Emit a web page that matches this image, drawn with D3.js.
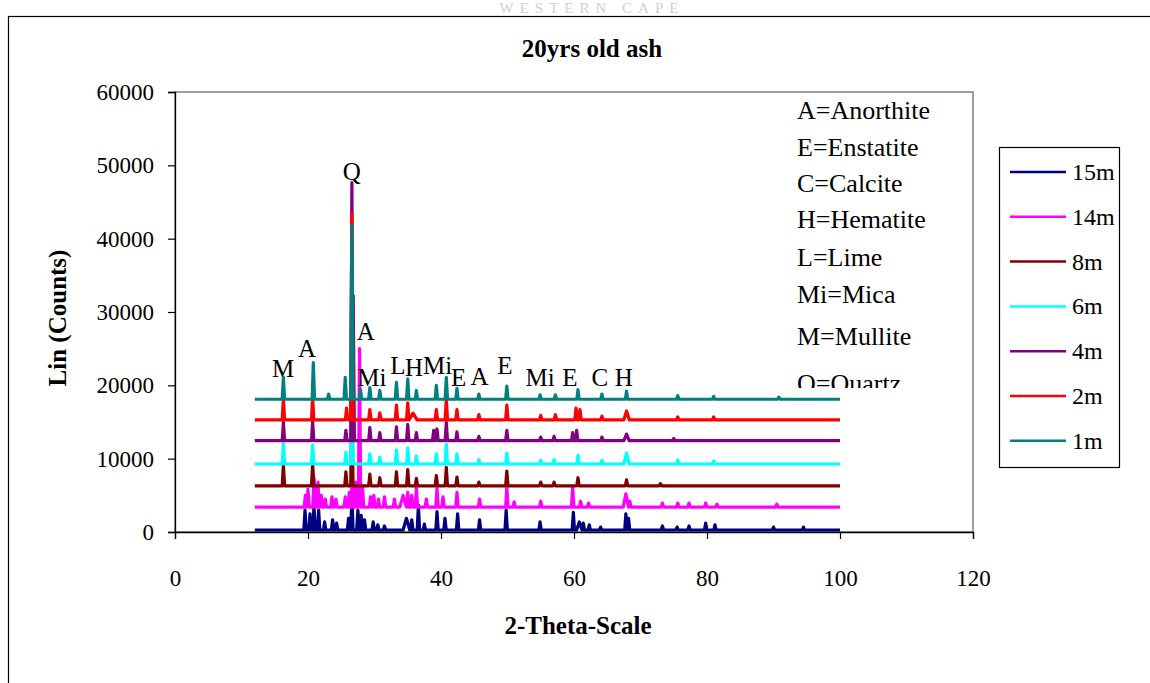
<!DOCTYPE html>
<html>
<head>
<meta charset="utf-8">
<script src="https://cdn.jsdelivr.net/npm/d3@7/dist/d3.min.js"></script>
<style>
  html, body { margin: 0; padding: 0; background: #fff; }
  svg { display: block; }
  text { font-family: "Liberation Serif", "Times New Roman", serif; }
</style>
</head>
<body>
<svg id="chart" width="1150" height="683"></svg>
<script>
// ---------------- DATA ----------------
const chartTitle = "20yrs old ash";
const xTitle = "2-Theta-Scale";
const yTitle = "Lin (Counts)";
const xTickValues = [0, 20, 40, 60, 80, 100, 120];
const yTickValues = [0, 10000, 20000, 30000, 40000, 50000, 60000];
const scanRange = [12, 100];

const seriesNames = ["15m", "14m", "8m", "6m", "4m", "2m", "1m"];
// baseline level (counts) of each stacked pattern
const seriesBaselines = [270, 3400, 6300, 9270, 12450, 15300, 18100];

// peaks: [2-theta, height above baseline (counts), optional half-width (deg)]
const peaks15m = [[19.55,2700],[20.3,2200],[20.9,3400],[21.6,2700],[22.5,1100],[23.7,1400],[24.3,950],[26.1,1600],[26.6,4500],[27.5,2700],[28.0,2000],[28.5,1400],[29.8,1100],[30.5,700],[31.5,550],[34.8,1600,0.5],[35.6,1400],[36.6,3400],[37.5,800],[39.4,2500],[40.6,1600],[42.5,2200],[45.8,1400],[49.8,2700],[54.9,1100],[59.9,2400],[60.8,1100,0.4],[61.4,950],[62.3,700],[64.0,400],[67.8,2200],[68.2,1600],[73.3,550],[75.5,400],[77.3,550],[79.8,950],[81.2,700],[90.0,400],[94.5,400]];
const peaks14m = [[19.6,1600],[20.0,2400],[20.9,4000],[21.5,3400],[22.0,1600],[22.6,1100],[23.6,1400],[24.2,1100],[25.6,1400],[26.2,2000],[26.65,4000],[27.2,3400],[27.75,21600],[28.2,2700],[29.4,1400],[29.9,1600],[30.6,1100],[31.5,1400],[33.0,1100],[34.3,1600,0.5],[35.0,2000],[35.6,1600],[36.3,2700],[37.8,1100],[39.4,2600],[40.3,1400],[42.4,2000],[45.8,1100],[49.9,2800],[51.0,700],[55.0,800],[59.8,2700],[61.0,800],[62.2,550],[67.8,1800,0.4],[68.4,800],[73.3,550],[75.6,550],[77.3,550],[79.8,550],[81.5,400],[90.5,400]];
const peaks8m = [[16.3,2900],[20.7,3100],[25.7,1900],[26.6,12000],[29.3,1600],[30.8,1100],[33.3,1900],[35.0,2200],[36.3,1000],[39.3,1400],[40.8,2500],[42.4,1200],[45.7,500],[49.9,2000],[55.0,500],[57.0,500],[60.6,1100],[67.9,800],[73.0,300]];
const peaks6m = [[16.3,2900],[20.7,2600],[25.7,1600],[26.6,15000],[29.3,1400],[30.8,950],[33.3,1900],[35.0,2200],[36.3,1100],[39.3,1400],[40.8,2700],[42.4,1400],[45.7,600],[49.9,1500],[55.0,500],[57.0,600],[60.6,1200],[64.2,500],[67.9,1500,0.4],[75.6,550],[81.0,400]];
const peaks4m = [[16.3,2500],[20.7,2600],[25.7,1400],[26.6,35200],[26.8,19800],[29.3,1800],[30.8,1100],[33.3,1900],[35.0,2200],[36.3,1100],[38.9,1400],[39.4,1600],[40.8,2500],[42.4,1200],[45.7,600],[49.9,1400],[55.0,500],[57.0,600],[59.8,1100],[60.4,1400],[64.2,500],[67.9,900,0.4],[75.0,300]];
const peaks2m = [[16.3,2900],[20.7,3100],[25.8,1600],[26.6,28200],[29.3,1400],[30.8,950],[33.3,2000],[35.0,2300],[35.8,900,0.6],[39.3,1400],[40.8,2900],[42.4,1400],[45.7,700],[49.9,2000],[55.0,600],[57.2,700],[60.3,1600],[60.9,1400],[64.2,500],[67.9,1200,0.4],[75.6,400],[81.0,400]];
const peaks1m = [[16.3,3000],[20.8,5000],[23.1,700],[25.6,3000],[26.6,23700],[27.9,1300],[29.3,1600],[30.8,1200],[33.3,2300],[35.0,2800],[36.3,1200],[39.3,1900],[40.8,3000],[42.4,1500],[45.7,700],[49.9,1800],[54.9,600],[57.2,600],[60.6,1300],[64.2,700],[67.9,1100],[75.6,500],[81.0,400],[90.8,300]];
const seriesPeaks = [peaks15m, peaks14m, peaks8m, peaks6m, peaks4m, peaks2m, peaks1m];

// phase labels: [text, 2-theta, counts]
const phaseLabels = [["M",16.24,21100],["A",19.85,23860],["Q",26.6,48000],["A",28.7,26180],["Mi",29.6,19900],["L",33.5,21550],["H",35.95,21270],["Mi",39.5,21550],["E",42.65,19900],["A",45.8,20050],["E",49.6,21550],["Mi",54.9,19900],["E",59.4,19900],["C",63.9,19900],["H",67.5,19900]];
const phaseKey = ["A=Anorthite","E=Enstatite","C=Calcite","H=Hematite","L=Lime","Mi=Mica","M=Mullite","Q=Quartz"];

// ---------------- STYLE ----------------
const seriesColors = ["#000080", "#FF00FF", "#800000", "#00FFFF", "#800080", "#FF0000", "#008080"];
const plot = { left: 175, right: 973, top: 92, bottom: 532 };

const svg = d3.select("#chart");

// watermark from the scanned page
svg.append("text").attr("x", 592).attr("y", 13).attr("text-anchor", "middle")
  .attr("font-size", 15).attr("letter-spacing", 6).attr("fill", "#d0d0d0").text("WESTERN CAPE");

// outer chart border
svg.append("rect").attr("x", 8.5).attr("y", 16.5).attr("width", 1200).attr("height", 800)
  .attr("fill", "#fff").attr("stroke", "#000").attr("stroke-width", 1.2);

const x = d3.scaleLinear().domain([0, 120]).range([plot.left, plot.right]);
const y = d3.scaleLinear().domain([0, 60000]).range([plot.bottom, plot.top]);

// plot area border (grey)
svg.append("rect").attr("x", plot.left).attr("y", plot.top)
  .attr("width", plot.right - plot.left).attr("height", plot.bottom - plot.top)
  .attr("fill", "none").attr("stroke", "#808080").attr("stroke-width", 1.5);

// title
svg.append("text").attr("x", 592).attr("y", 57).attr("text-anchor", "middle")
  .attr("font-size", 25).attr("font-weight", "bold").text(chartTitle);

// build series points from peak lists
function patternPoints(peaks, base) {
  const pts = [[scanRange[0], base]];
  peaks.slice().sort((a, b) => a[0] - b[0]).forEach(p => {
    const w = p[2] || 0.18;
    pts.push([p[0] - w, base]);
    pts.push([p[0], base + p[1]]);
    pts.push([p[0] + w, base]);
  });
  pts.push([scanRange[1], base]);
  return pts;
}

const line = d3.line().x(d => x(d[0])).y(d => y(d[1]));
const gLines = svg.append("g");
seriesNames.forEach((name, i) => {
  gLines.append("path")
    .datum(patternPoints(seriesPeaks[i], seriesBaselines[i]))
    .attr("d", line)
    .attr("fill", "none")
    .attr("stroke", seriesColors[i])
    .attr("stroke-width", 3.2)
    .attr("stroke-linejoin", "round");
});

// axes
const yAxis = d3.axisLeft(y).tickValues(yTickValues).tickFormat(d3.format("d")).tickSize(7).tickPadding(14);
const xAxis = d3.axisBottom(x).tickValues(xTickValues).tickFormat(d3.format("d")).tickSize(7).tickPadding(31);
const gy = svg.append("g").attr("transform", `translate(${plot.left},0)`).call(yAxis);
const gx = svg.append("g").attr("transform", `translate(0,${plot.bottom})`).call(xAxis);
[gx, gy].forEach(g => {
  g.select(".domain").attr("stroke", "#000").attr("stroke-width", 1.3);
  g.selectAll(".tick line").attr("stroke", "#000").attr("stroke-width", 1.2);
  g.selectAll(".tick text").attr("font-family", "'Liberation Serif', serif").attr("font-size", 23).attr("fill", "#000");
});

// axis titles
svg.append("text").attr("x", 578).attr("y", 634).attr("text-anchor", "middle")
  .attr("font-size", 25).attr("font-weight", "bold").text(xTitle);
svg.append("text").attr("transform", "translate(66,318) rotate(-90)").attr("text-anchor", "middle")
  .attr("font-size", 25).attr("font-weight", "bold").text(yTitle);

// phase labels
svg.append("g").selectAll("text").data(phaseLabels).join("text")
  .attr("x", d => x(d[1])).attr("y", d => y(d[2]))
  .attr("text-anchor", "middle").attr("font-size", 25).text(d => d[0]);

// phase key (clipped text box)
svg.append("clipPath").attr("id", "keyclip").append("rect")
  .attr("x", 780).attr("y", 93).attr("width", 190).attr("height", 295);
svg.append("g").attr("clip-path", "url(#keyclip)").selectAll("text").data(phaseKey).join("text")
  .attr("x", 797).attr("y", (d, i) => [119, 156, 192, 228, 266, 303, 345, 392][i])
  .attr("font-size", 26).text(d => d);

// legend
const legend = svg.append("g");
legend.append("rect").attr("x", 999.5).attr("y", 147.5).attr("width", 120).attr("height", 320)
  .attr("fill", "#fff").attr("stroke", "#000").attr("stroke-width", 1.2);
seriesNames.forEach((name, i) => {
  const ly = 172 + i * 44.8;
  legend.append("line").attr("x1", 1010).attr("x2", 1066).attr("y1", ly).attr("y2", ly)
    .attr("stroke", seriesColors[i]).attr("stroke-width", 2.5);
  legend.append("text").attr("x", 1072).attr("y", ly + 8).attr("font-size", 24).text(name);
});
</script>
</body>
</html>
